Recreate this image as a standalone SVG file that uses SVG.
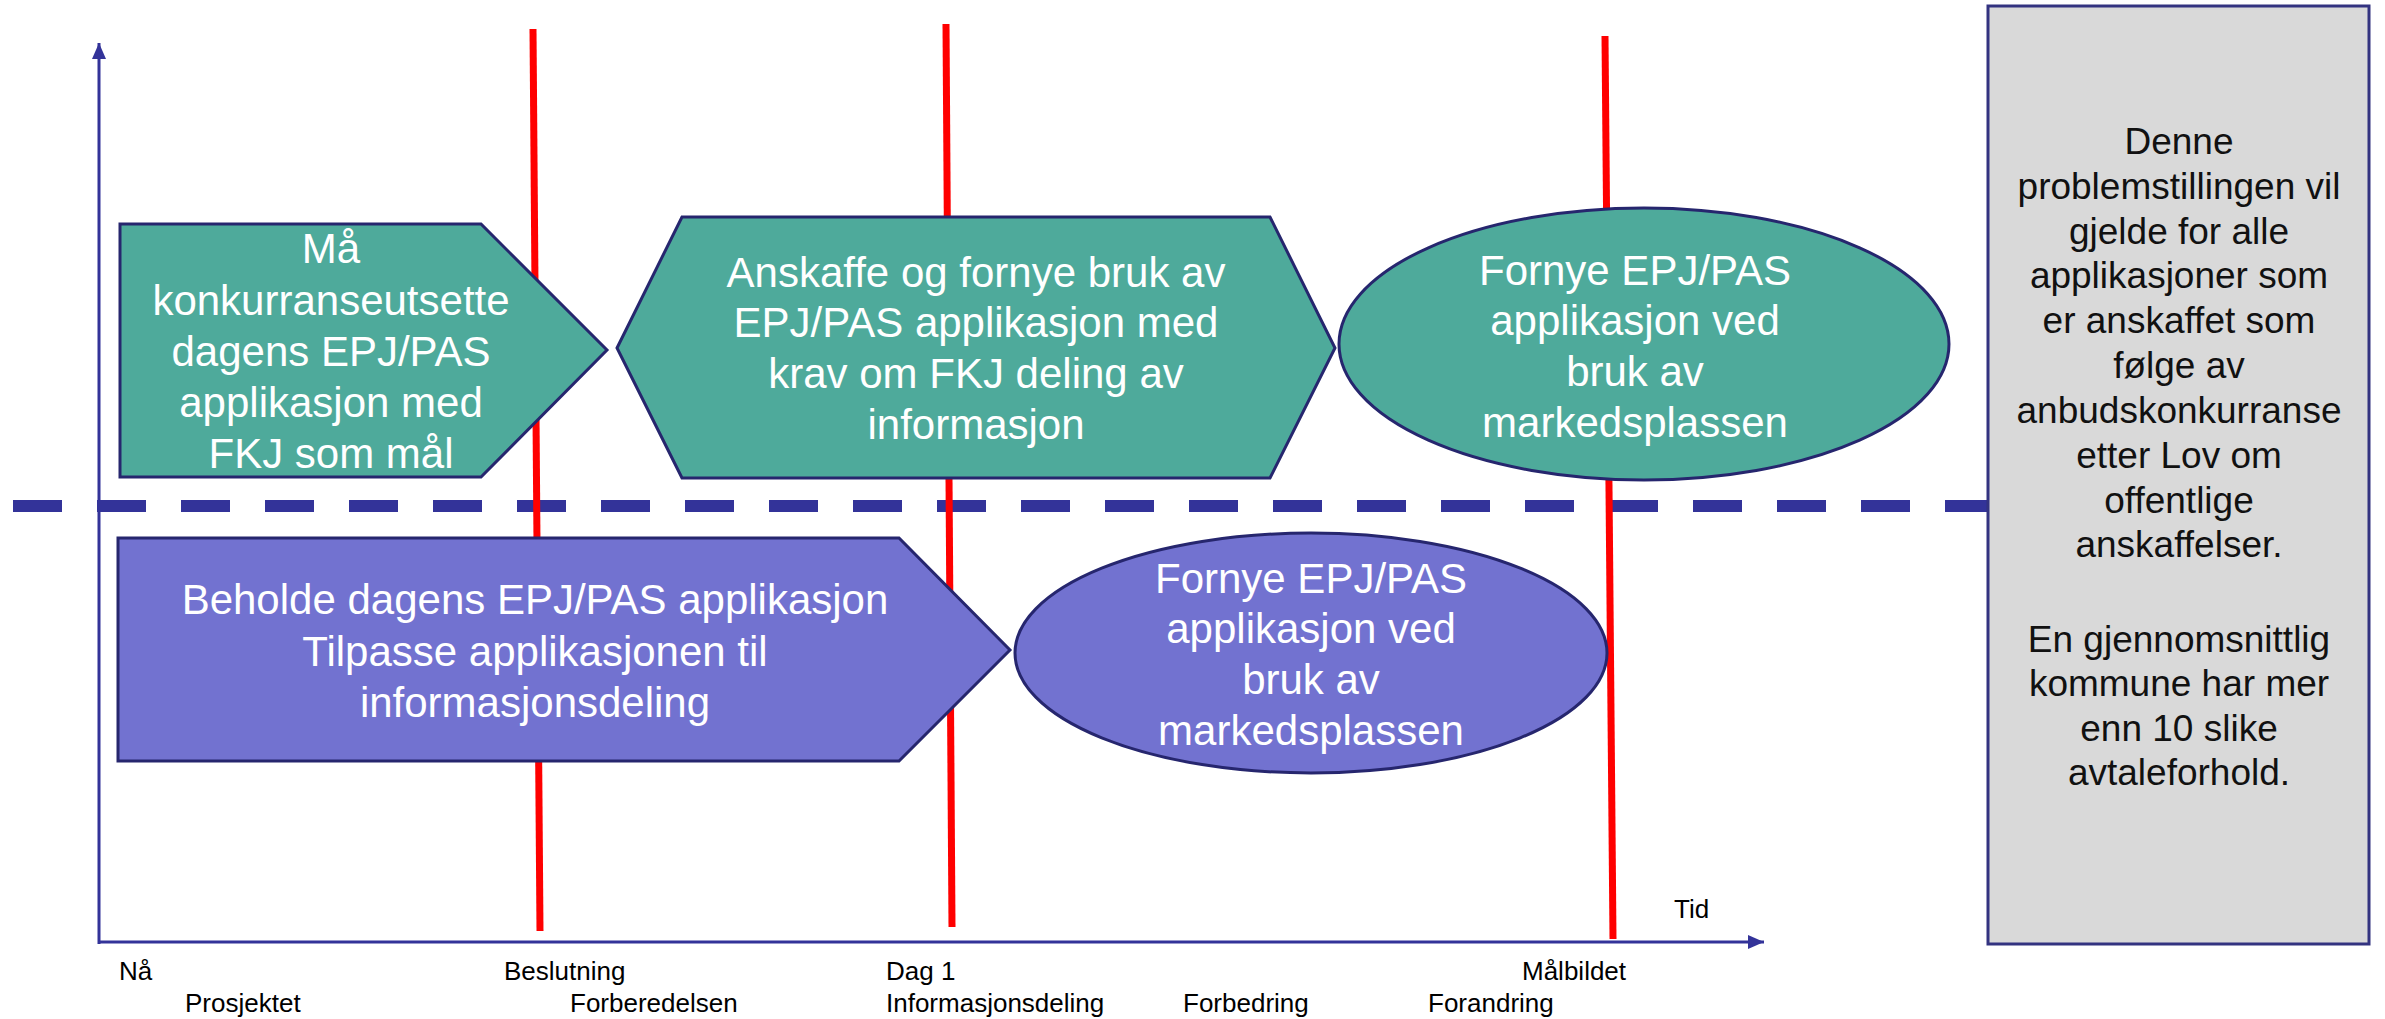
<svg xmlns="http://www.w3.org/2000/svg" width="2385" height="1019" viewBox="0 0 2385 1019">
  <style>
    .shape { stroke: #26266e; stroke-width: 3; }
    .teal { fill: #4eaa9b; }
    .purple { fill: #7272d0; }
    .wt { font-family: "Liberation Sans", Arial, sans-serif; font-size: 42px; fill: #ffffff; text-anchor: middle; }
    .lbl { font-family: "Liberation Sans", Arial, sans-serif; font-size: 26px; fill: #000000; }
    .note { font-family: "Liberation Sans", Arial, sans-serif; font-size: 37px; fill: #111111; text-anchor: middle; }
    .axis { stroke: #333399; stroke-width: 3; fill: none; }
    .red { stroke: #ff0000; stroke-width: 7; fill: none; }
  </style>
  <defs>
    <marker id="arr" markerWidth="16" markerHeight="14" refX="16" refY="7" orient="auto" markerUnits="userSpaceOnUse">
      <path d="M0,0 L16,7 L0,14 Z" fill="#333399"/>
    </marker>
  </defs>
  <rect width="2385" height="1019" fill="#ffffff"/>

  <g id="connectors">
    <line class="axis" x1="99" y1="944" x2="99" y2="43" marker-end="url(#arr)"/>
    <line class="axis" x1="98" y1="942" x2="1764" y2="942" marker-end="url(#arr)"/>
    <line x1="13" y1="506" x2="1988" y2="506" stroke="#333399" stroke-width="12" stroke-dasharray="49 35"/>
    <line class="red" x1="533" y1="29" x2="540" y2="931"/>
    <line class="red" x1="946" y1="24" x2="952" y2="927"/>
    <line class="red" x1="1605" y1="36" x2="1613" y2="939"/>
  </g>

  <g id="node-teal-pentagon">
    <polygon class="shape teal" points="120,224 481,224 607,350 481,477 120,477"/>
    <text class="wt" x="331" y="263">Må</text>
    <text class="wt" x="331" y="315">konkurranseutsette</text>
    <text class="wt" x="331" y="366">dagens EPJ/PAS</text>
    <text class="wt" x="331" y="417">applikasjon med</text>
    <text class="wt" x="331" y="468">FKJ som mål</text>
  </g>

  <g id="node-teal-hexagon">
    <polygon class="shape teal" points="617,348 682,217 1270,217 1335,348 1270,478 682,478"/>
    <text class="wt" x="976" y="287">Anskaffe og fornye bruk av</text>
    <text class="wt" x="976" y="337">EPJ/PAS applikasjon med</text>
    <text class="wt" x="976" y="388">krav om FKJ deling av</text>
    <text class="wt" x="976" y="439">informasjon</text>
  </g>

  <g id="node-teal-ellipse">
    <ellipse class="shape teal" cx="1644" cy="344" rx="305" ry="136"/>
    <text class="wt" x="1635" y="285">Fornye EPJ/PAS</text>
    <text class="wt" x="1635" y="335">applikasjon ved</text>
    <text class="wt" x="1635" y="386">bruk av</text>
    <text class="wt" x="1635" y="437">markedsplassen</text>
  </g>

  <g id="node-purple-pentagon">
    <polygon class="shape purple" points="118,538 899,538 1010,650 899,761 118,761"/>
    <text class="wt" x="535" y="614">Beholde dagens EPJ/PAS applikasjon</text>
    <text class="wt" x="535" y="666">Tilpasse applikasjonen til</text>
    <text class="wt" x="535" y="717">informasjonsdeling</text>
  </g>

  <g id="node-purple-ellipse">
    <ellipse class="shape purple" cx="1311" cy="653" rx="296" ry="120"/>
    <text class="wt" x="1311" y="593">Fornye EPJ/PAS</text>
    <text class="wt" x="1311" y="643">applikasjon ved</text>
    <text class="wt" x="1311" y="694">bruk av</text>
    <text class="wt" x="1311" y="745">markedsplassen</text>
  </g>

  <g id="node-note">
    <rect x="1988" y="6" width="381" height="938" fill="#d9d9d9" stroke="#333380" stroke-width="3"/>
    <text class="note" x="2179" y="154">Denne</text>
    <text class="note" x="2179" y="199">problemstillingen vil</text>
    <text class="note" x="2179" y="244">gjelde for alle</text>
    <text class="note" x="2179" y="288">applikasjoner som</text>
    <text class="note" x="2179" y="333">er anskaffet som</text>
    <text class="note" x="2179" y="378">følge av</text>
    <text class="note" x="2179" y="423">anbudskonkurranse</text>
    <text class="note" x="2179" y="468">etter Lov om</text>
    <text class="note" x="2179" y="513">offentlige</text>
    <text class="note" x="2179" y="557">anskaffelser.</text>
    <text class="note" x="2179" y="652">En gjennomsnittlig</text>
    <text class="note" x="2179" y="696">kommune har mer</text>
    <text class="note" x="2179" y="741">enn 10 slike</text>
    <text class="note" x="2179" y="785">avtaleforhold.</text>
  </g>

  <g id="axis-labels">
    <text class="lbl" x="1674" y="918">Tid</text>
    <text class="lbl" x="119" y="980">Nå</text>
    <text class="lbl" x="504" y="980">Beslutning</text>
    <text class="lbl" x="886" y="980">Dag 1</text>
    <text class="lbl" x="1522" y="980">Målbildet</text>
    <text class="lbl" x="185" y="1012">Prosjektet</text>
    <text class="lbl" x="570" y="1012">Forberedelsen</text>
    <text class="lbl" x="886" y="1012">Informasjonsdeling</text>
    <text class="lbl" x="1183" y="1012">Forbedring</text>
    <text class="lbl" x="1428" y="1012">Forandring</text>
  </g>
</svg>
